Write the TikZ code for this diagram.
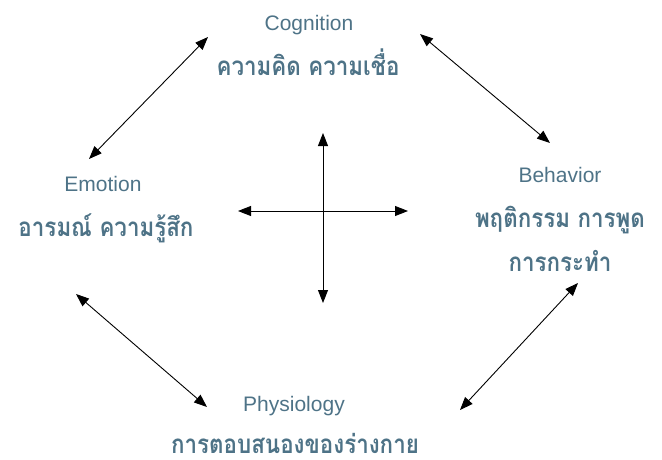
\documentclass[tikz,border=0pt]{standalone}
\usepackage{fontspec}
\setmainfont{Liberation Sans}
\newfontfamily\thaifont[Script=Thai]{Loma}
\usetikzlibrary{arrows.meta}
\definecolor{txt}{RGB}{78,115,135}
\newcommand{\thn}[1]{\scalebox{0.86}[1]{#1}}
\begin{document}
\begin{tikzpicture}[x=1pt,y=-1pt,
  en/.style={text=txt,font=\fontsize{21}{24}\selectfont,anchor=base,inner sep=0pt},
  th/.style={text=txt,font=\thaifont\bfseries\fontsize{26}{30}\selectfont,anchor=base,inner sep=0pt,text depth=0pt},
  link/.style={line width=0.9pt,{Triangle[length=13pt,width=10pt]}-{Triangle[length=13pt,width=10pt]}}]
\useasboundingbox (0,0) rectangle (662,460);
% texts
\node[en] (cogE) at (309,31) {Cognition};
\node[th] (cogT) at (308,76) {\thn{ความคิด ความเชื่อ}};
\node[en] (emoE) at (103,191) {Emotion};
\node[th] (emoT) at (106,236) {\thn{อารมณ์ ความรู้สึก}};
\node[en] (behE) at (560,182) {Behavior};
\node[th] (behT1) at (560,227) {\thn{พฤติกรรม การพูด}};
\node[th] (behT2) at (560,271) {\thn{การกระทำ}};
\node[en] (phyE) at (294,411) {Physiology};
\node[th] (phyT) at (295,453) {\thn{การตอบสนองของร่างกาย}};
% arrow endpoints
\coordinate (ce1) at (208,37);  \coordinate (ce2) at (89,159);
\coordinate (cb1) at (420,34);  \coordinate (cb2) at (550,143);
\coordinate (ep1) at (76,294);  \coordinate (ep2) at (207,407);
\coordinate (bp1) at (578,283); \coordinate (bp2) at (460,410);
\coordinate (hl) at (238,211);  \coordinate (hr) at (408,211);
\coordinate (vt) at (323,133);  \coordinate (vb) at (323,303);
\draw[link] (ce1) -- (ce2);
\draw[link] (cb1) -- (cb2);
\draw[link] (ep1) -- (ep2);
\draw[link] (bp1) -- (bp2);
\draw[link] (hl) -- (hr);
\draw[link] (vt) -- (vb);
\end{tikzpicture}
\end{document}
